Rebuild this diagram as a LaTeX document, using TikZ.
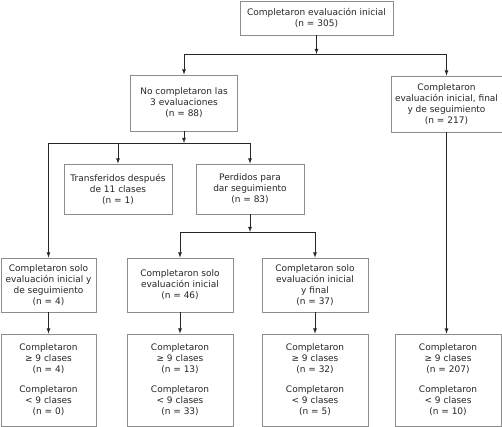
\documentclass[tikz,border=0pt]{standalone}
\usepackage{fontspec}
\setmainfont{DejaVu Sans}
\begin{document}
\begin{tikzpicture}[x=1pt, y=-1pt, font=\fontsize{9}{11}\selectfont,
  box/.style={draw=black!45, line width=0.8pt, align=center, inner sep=0pt, text=black!85},
  arr/.style={-latex, line width=0.8pt, black!85},
  line/.style={line width=0.8pt, black!85}]
\useasboundingbox (0,0) rectangle (502,427);
\node[box, minimum width=153, minimum height=34] (top) at (316.5,18) {Completaron evaluación inicial\\(n = 305)};
\node[box, minimum width=107, minimum height=56] (nocomp) at (184,103) {No completaron las\\3 evaluaciones\\(n = 88)};
\node[box, minimum width=111, minimum height=56] (tres) at (446.5,104) {Completaron\\evaluación inicial, final\\y de seguimiento\\(n = 217)};
\node[box, minimum width=108, minimum height=50] (trans) at (118,189) {Transferidos después\\de 11 clases\\(n = 1)};
\node[box, minimum width=108, minimum height=50] (perd) at (250,189) {Perdidos para\\dar seguimiento\\(n = 83)};
\node[box, minimum width=95, minimum height=54] (soloA) at (48.5,285) {Completaron solo\\evaluación inicial y\\de seguimiento\\(n = 4)};
\node[box, minimum width=106, minimum height=54] (soloB) at (180,285) {Completaron solo\\evaluación inicial\\(n = 46)};
\node[box, minimum width=106, minimum height=54] (soloC) at (315,285) {Completaron solo\\evaluación inicial\\y final\\(n = 37)};
\node[box, minimum width=95, minimum height=92] (resA) at (48.5,380) {Completaron\\≥ 9 clases\\(n = 4)\\[9pt]Completaron\\< 9 clases\\(n = 0)};
\node[box, minimum width=106, minimum height=92] (resB) at (180,380) {Completaron\\≥ 9 clases\\(n = 13)\\[9pt]Completaron\\< 9 clases\\(n = 33)};
\node[box, minimum width=106, minimum height=92] (resC) at (315,380) {Completaron\\≥ 9 clases\\(n = 32)\\[9pt]Completaron\\< 9 clases\\(n = 5)};
\node[box, minimum width=106, minimum height=92] (resD) at (448,380) {Completaron\\≥ 9 clases\\(n = 207)\\[9pt]Completaron\\< 9 clases\\(n = 10)};
\coordinate (j1) at (316.5,54);
\coordinate (j2) at (184,143);
\coordinate (j3) at (250,232);
\draw[arr] (top) -- (j1);
\draw[line] (nocomp |- j1) -- (tres |- j1);
\draw[arr] (nocomp |- j1) -- (nocomp);
\draw[arr] (tres |- j1) -- (tres);
\draw[arr] (nocomp) -- (j2);
\draw[line] (soloA |- j2) -- (perd |- j2);
\draw[arr] (soloA |- j2) -- (soloA);
\draw[arr] (trans |- j2) -- (trans);
\draw[arr] (perd |- j2) -- (perd);
\draw[arr] (perd) -- (j3);
\draw[line] (soloB |- j3) -- (soloC |- j3);
\draw[arr] (soloB |- j3) -- (soloB);
\draw[arr] (soloC |- j3) -- (soloC);
\draw[arr] (soloA) -- (resA);
\draw[arr] (soloB) -- (resB);
\draw[arr] (soloC) -- (resC);
\draw[arr] (tres.south) -- (tres.south |- resD.north);
\end{tikzpicture}
\end{document}
